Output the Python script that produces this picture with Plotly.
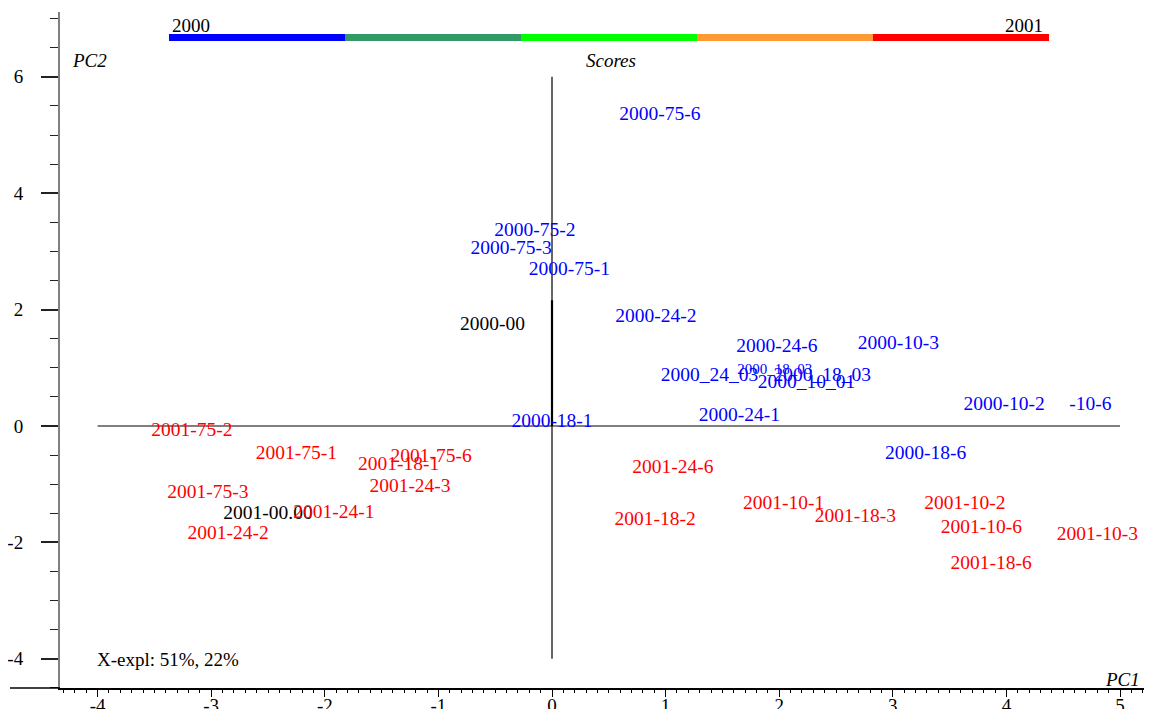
import plotly.graph_objects as go

# ---------------- data ----------------
labels_2000 = ["2000-75-6", "2000-75-2", "2000-75-3", "2000-75-1", "2000-24-2",
               "2000-24-6", "2000-10-3", "2000_24_03", "2000_18_03", "2000_18_03",
               "2000_10_01", "2000-10-2", "-10-6", "2000-24-1", "2000-18-1", "2000-18-6"]
pc1_2000 = [0.95, -0.15, -0.36, 0.154, 0.915, 1.98, 3.05, 1.386, 1.96, 2.38,
            2.24, 3.98, 4.74, 1.65, 0.0, 3.29]
pc2_2000 = [5.34, 3.35, 3.04, 2.68, 1.87, 1.355, 1.41, 0.856, 0.96, 0.856,
            0.736, 0.358, 0.358, 0.17, 0.066, -0.484]
size_2000 = [19.5, 19.5, 19.5, 19.5, 19.5, 19.5, 19.5, 19.5, 15, 19.5,
             19.5, 19.5, 19.5, 19.5, 19.5, 19.5]

labels_2001 = ["2001-75-2", "2001-75-1", "2001-75-6", "2001-18-1", "2001-24-3",
               "2001-75-3", "2001-24-1", "2001-24-2", "2001-24-6", "2001-18-2",
               "2001-10-1", "2001-18-3", "2001-10-2", "2001-10-6", "2001-10-3", "2001-18-6"]
pc1_2001 = [-3.17, -2.25, -1.065, -1.35, -1.25, -3.03, -1.92, -2.85, 1.065, 0.907,
            2.04, 2.67, 3.635, 3.78, 4.80, 3.865]
pc2_2001 = [-0.089, -0.484, -0.535, -0.673, -1.05, -1.154, -1.498, -1.86, -0.72, -1.62,
            -1.34, -1.57, -1.34, -1.755, -1.876, -2.374]

labels_ref = ["2000-00", "2001-00.00"]
pc1_ref = [-0.524, -2.50]
pc2_ref = [1.73, -1.515]

x_tick_vals = [-4, -3, -2, -1, 0, 1, 2, 3, 4, 5]
x_tick_text = ["-4", "-3", "-2", "-1", "0", "1", "2", "3", "4", "5"]
y_tick_vals = [-4, -2, 0, 2, 4, 6]
y_tick_text = ["-4", "-2", "0", "2", "4", "6"]

cross_x = [-4, 5]     # extent of the horizontal zero line
cross_y = [-4, 6]     # extent of the vertical zero line
thick_y = [0, 2.16]   # heavier part of the vertical zero line

bar_colors = ["#0000FF", "#339966", "#00FF00", "#FF9933", "#FF0000"]
bar_labels = ["2000", "2001"]

FONT = "Liberation Serif, Times New Roman, serif"

# ---------------- figure ----------------
fig = go.Figure()

fig.add_trace(go.Scatter(x=cross_x, y=[0, 0], mode="lines",
                         line=dict(color="black", width=1.2), hoverinfo="skip"))
fig.add_trace(go.Scatter(x=[0, 0], y=cross_y, mode="lines",
                         line=dict(color="black", width=1.2), hoverinfo="skip"))
fig.add_trace(go.Scatter(x=[0, 0], y=thick_y, mode="lines",
                         line=dict(color="black", width=2.2), hoverinfo="skip"))

fig.add_trace(go.Scatter(x=pc1_2000, y=pc2_2000, text=labels_2000, mode="text",
                         textposition="middle center",
                         textfont=dict(family=FONT, size=size_2000, color="#0000FF"),
                         hoverinfo="skip"))
fig.add_trace(go.Scatter(x=pc1_ref, y=pc2_ref, text=labels_ref, mode="text",
                         textposition="middle center",
                         textfont=dict(family=FONT, size=19.5, color="black"),
                         hoverinfo="skip"))
fig.add_trace(go.Scatter(x=pc1_2001, y=pc2_2001, text=labels_2001, mode="text",
                         textposition="middle center",
                         textfont=dict(family=FONT, size=19.5, color="#FF0000"),
                         hoverinfo="skip"))

# geometry: page pixels; the page body adds an 8 px offset to the figure
OFF = 8
W, H = 1152, 709
PL, PR, PT, PB = 60, 1160, 12, 688          # plot area in page pixels
L, T = PL - OFF, PT - OFF
R = W - (PR - OFF)
B = H - (PB - OFF)
pw, ph = PR - PL, PB - PT


def px(xp):
    return (xp - PL) / pw


def py(yp):
    return (PB - yp) / ph


shapes = []
bx0, bx1 = 169, 1049
seg = (bx1 - bx0) / len(bar_colors)
for i, c in enumerate(bar_colors):
    shapes.append(dict(type="rect", xref="paper", yref="paper",
                       x0=px(bx0 + i * seg), x1=px(bx0 + (i + 1) * seg),
                       y0=py(41), y1=py(34), fillcolor=c, line=dict(width=0),
                       layer="above"))
shapes.append(dict(type="line", xref="paper", yref="paper",
                   x0=px(10), x1=0, y0=0, y1=0,
                   line=dict(color="black", width=1.5)))

annotations = [
    dict(text="<i>PC2</i>", x=px(70), y=py(61), xanchor="left", yanchor="middle"),
    dict(text="<i>Scores</i>", x=px(611), y=py(61), xanchor="center", yanchor="middle"),
    dict(text="<i>PC1</i>", x=px(1142), y=py(679), xanchor="right", yanchor="middle"),
    dict(text="X-expl: 51%, 22%", x=px(95), y=py(659), xanchor="left", yanchor="middle"),
    dict(text=bar_labels[0], x=px(170), y=py(26), xanchor="left", yanchor="middle"),
    dict(text=bar_labels[1], x=px(1045), y=py(26), xanchor="right", yanchor="middle"),
]
for a in annotations:
    a.update(xref="paper", yref="paper", showarrow=False,
             font=dict(family=FONT, size=19, color="black"))

fig.update_layout(
    width=W, height=H,
    margin=dict(l=L, r=R, t=T, b=B, pad=0, autoexpand=False),
    paper_bgcolor="white", plot_bgcolor="white",
    showlegend=False,
    shapes=shapes, annotations=annotations,
    font=dict(family=FONT, size=19, color="black"),
    xaxis=dict(range=[(PL - 552) / 113.6, (PR - 552) / 113.6],
               automargin=False, showgrid=False, zeroline=False,
               showline=True, linecolor="black", linewidth=1.5,
               ticks="outside", ticklen=7, tickwidth=1.3, tickcolor="black",
               tickmode="array", tickvals=x_tick_vals, ticktext=x_tick_text,
               ticklabelstandoff=-8,
               tickfont=dict(family=FONT, size=19, color="black"),
               minor=dict(tickmode="linear", tick0=0, dtick=0.1, ticks="outside",
                          ticklen=3, tickwidth=1, tickcolor="black", showgrid=False)),
    yaxis=dict(range=[(426 - PB) / 58.2, (426 - PT) / 58.2],
               automargin=False, showgrid=False, zeroline=False,
               showline=True, linecolor="#808080", linewidth=2,
               ticks="outside", ticklen=17, tickwidth=1.5, tickcolor="#222222",
               tickmode="array", tickvals=y_tick_vals, ticktext=y_tick_text,
               ticklabelstandoff=14,
               tickfont=dict(family=FONT, size=19, color="black"),
               minor=dict(tickmode="linear", tick0=0, dtick=0.5, ticks="outside",
                          ticklen=8, tickwidth=1.3, tickcolor="#222222", showgrid=False)),
)

fig.write_html("out.html")
